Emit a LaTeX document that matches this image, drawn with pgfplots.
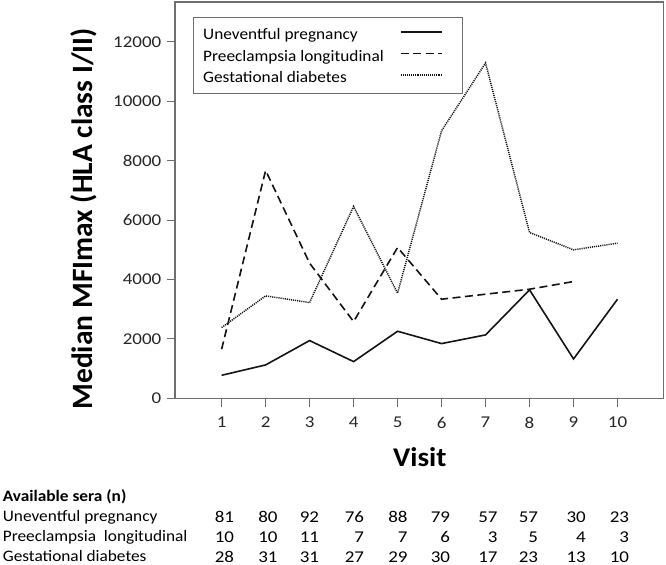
\documentclass[border=0pt]{standalone}
\usepackage{pgfplots}
\pgfplotsset{compat=1.18}
\usepackage{fontspec}
\setmainfont{Carlito}[FakeStretch=1.08]
\newfontfamily\ylabfont{Carlito}
\newfontfamily\numfont{Carlito}[FakeStretch=1.15]
\definecolor{axgray}{RGB}{110,110,110}
\definecolor{ln}{RGB}{20,20,20}
\newcommand{\nfont}{\fontsize{16bp}{19bp}\selectfont}
\newcommand{\dfont}{\numfont\fontsize{16.5bp}{19bp}\selectfont}
\begin{document}
\begin{tikzpicture}
\path[use as bounding box] (0,0) rectangle (666bp,-565bp);
\begin{axis}[
  at={(175bp,-398.3bp)}, anchor=south west,
  scale only axis, width=488.7bp, height=396.3bp,
  xmin=-0.06, xmax=11.05, ymin=0, ymax=13347,
  xtick={1,...,10}, ytick={0,2000,...,12000},
  scaled y ticks=false,
  /pgf/number format/1000 sep={},
  /pgf/number format/assume math mode=true,
  tick align=outside, major tick length=8.5bp,
  xtick pos=lower, ytick pos=left,
  axis line style={axgray, line width=1.2bp},
  every tick/.style={axgray, line width=1bp},
  tick label style={font=\dfont, text=black!85},
  yticklabel style={inner xsep=5bp, inner ysep=0pt},
  xticklabel style={inner ysep=10bp, inner xsep=0pt},
  xlabel={Visit},
  xlabel style={at={(rel axis cs:0.501,-0.1494)}, anchor=center, font=\fontsize{27bp}{30bp}\selectfont\bfseries},
  ylabel={Median MFImax (HLA class I/II)},
  every axis y label/.style={at={(rel axis cs:-0.1862,0.4524)}, rotate=90, anchor=center, font=\ylabfont\fontsize{29.5bp}{32bp}\selectfont\bfseries},
  legend plot pos=right, legend cell align=left,
  legend image code/.code={\path[draw=none, fill=none] (0bp,2bp) -- (52.9bp,2bp); \draw[#1] (0bp,2bp) -- (41.7bp,2bp);},
  legend style={at={(rel axis cs:0.0374,0.9614)}, anchor=north west, draw=axgray, line width=1bp,
    inner xsep=9.4bp, inner ysep=6.3bp, row sep=1.5bp, column sep=16bp,
    font=\nfont, nodes={inner sep=0pt, text height=15.5bp, text depth=4.5bp}},
]
\addplot[ln, line width=1.6bp] coordinates {
(1,775) (2,1124) (3,1944) (4,1236) (5,2258) (6,1843) (7,2135) (8,3652) (9,1326) (10,3337)};
\addlegendentry{Uneventful pregnancy}
\addplot[ln, line width=1.6bp, dash pattern=on 8bp off 4.5bp] coordinates {
(1,1652) (2,7674) (3,4551) (4,2584) (5,5079) (6,3337) (7,3506) (8,3674) (9,3933)};
\addlegendentry{Preeclampsia longitudinal}
\addplot[ln, line width=1.5bp, dash pattern=on 1.1bp off 1bp] coordinates {
(1,2382) (2,3449) (3,3225) (4,6461) (5,3539) (6,9011) (7,11292) (8,5584) (9,5000) (10,5225)};
\addlegendentry{Gestational diabetes}
\end{axis}
% table of available sera
\node[anchor=base west, inner sep=0pt, font=\nfont\bfseries] at (2.7bp,-501.7bp) {Available sera (n)};
\node[anchor=base west, inner sep=0pt, font=\nfont] at (2.7bp,-521.7bp) {Uneventful pregnancy};
\node[anchor=base west, inner sep=0pt, font=\nfont] at (2.7bp,-541.7bp) {Preeclampsia\ \ longitudinal};
\node[anchor=base west, inner sep=0pt, font=\nfont] at (2.7bp,-561.7bp) {Gestational diabetes};
\foreach \x/\a/\b/\c in {234.3/81/10/28, 277.7/80/10/31, 319.3/92/11/31, 364.3/76/7/27, 407.7/88/7/29, 450.3/79/6/30, 497.7/57/3/17, 538.3/57/5/23, 586/30/4/13, 629.3/23/3/10}{
  \node[anchor=base east, inner sep=0pt, font=\dfont] at (\x bp,-522bp) {\a};
  \node[anchor=base east, inner sep=0pt, font=\dfont] at (\x bp,-542bp) {\b};
  \node[anchor=base east, inner sep=0pt, font=\dfont] at (\x bp,-562bp) {\c};
}
\end{tikzpicture}
\end{document}
